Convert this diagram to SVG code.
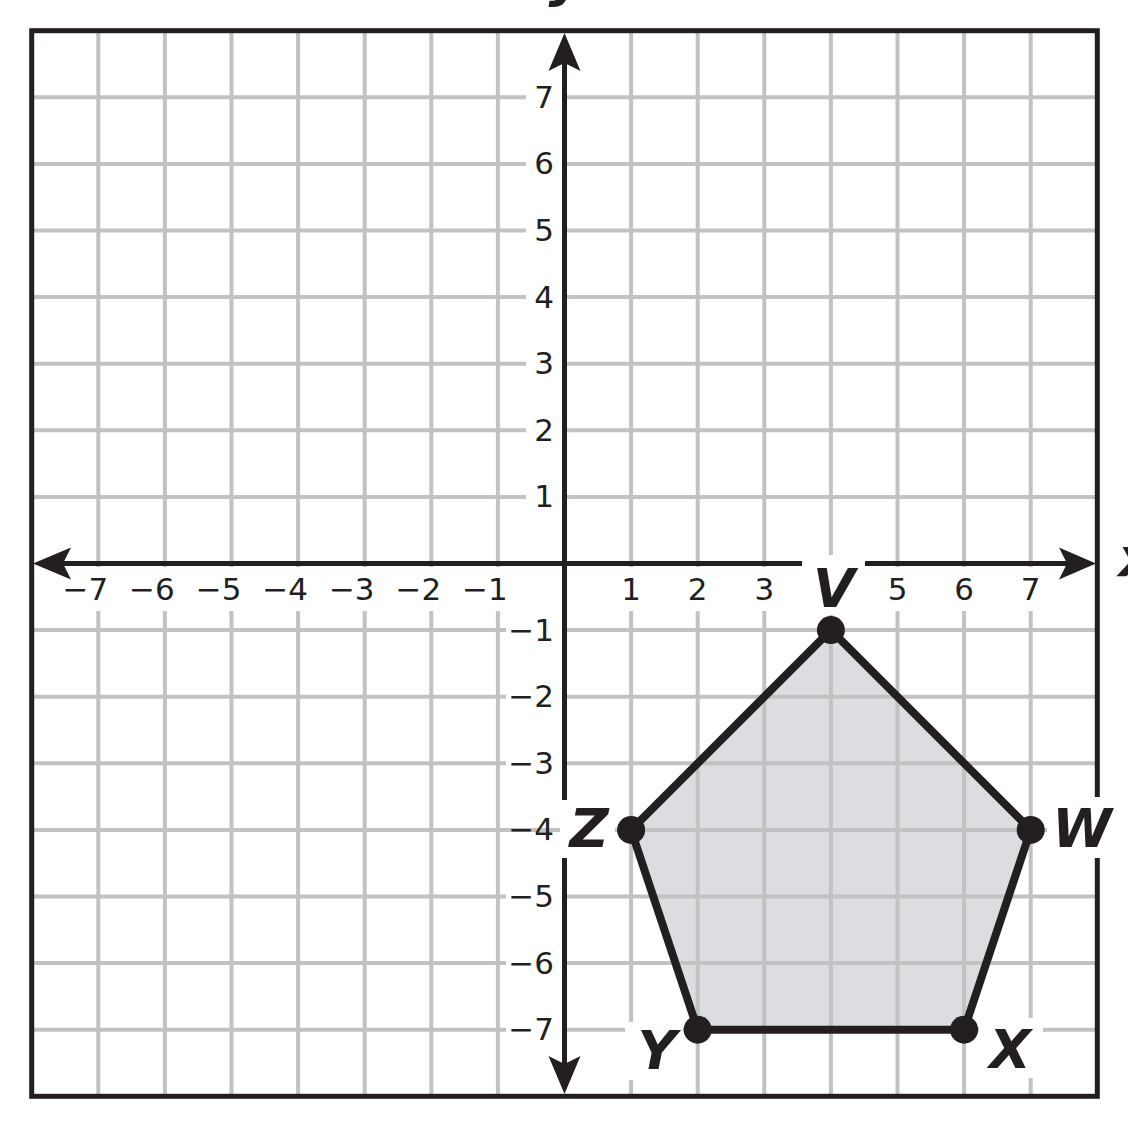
<svg xmlns="http://www.w3.org/2000/svg" width="1128" height="1122" viewBox="0 0 1128 1122">
<style>
.grid{stroke:#c2c2c2;stroke-width:4;fill:none}
.axis{stroke:#231f20;stroke-width:5;fill:none}
.head{fill:#231f20}
.border{stroke:#231f20;stroke-width:5;fill:none}
.mask{fill:#ffffff}
.tick{font-family:"DejaVu Sans","Verdana",sans-serif;font-size:31px;fill:#231f20}
.tx{text-anchor:middle}
.txn{text-anchor:end}
.ty{text-anchor:end}
.vlab{font-family:"DejaVu Sans",sans-serif;font-size:54px;font-weight:bold;font-style:italic;fill:#231f20;text-anchor:middle}
.poly{fill:#dcdde0;stroke:none}
.edge{stroke:#231f20;stroke-width:8;fill:none;stroke-linejoin:round}
.dot{fill:#231f20}
</style>
<rect x="0" y="0" width="1128" height="1122" fill="#ffffff"/>
<g id="shape-fill">
<polygon class="poly" points="830.9,630.1 1030.7,829.9 964.1,1029.7 697.7,1029.7 631.1,829.9"/>
</g>
<g id="grid">
<path class="grid" d="M98.3 30.7V1096.3M164.9 30.7V1096.3M231.5 30.7V1096.3M298.1 30.7V1096.3M364.7 30.7V1096.3M431.3 30.7V1096.3M497.9 30.7V1096.3M631.1 30.7V1096.3M697.7 30.7V1096.3M764.3 30.7V1096.3M830.9 30.7V1096.3M897.5 30.7V1096.3M964.1 30.7V1096.3M1030.7 30.7V1096.3M31.7 97.3H1097.3M31.7 163.9H1097.3M31.7 230.5H1097.3M31.7 297.1H1097.3M31.7 363.7H1097.3M31.7 430.3H1097.3M31.7 496.9H1097.3M31.7 630.1H1097.3M31.7 696.7H1097.3M31.7 763.3H1097.3M31.7 829.9H1097.3M31.7 896.5H1097.3M31.7 963.1H1097.3M31.7 1029.7H1097.3"/>
</g>
<g id="label-masks">
<rect class="mask" x="36" y="567" width="1056" height="44"/>
<rect class="mask" x="526" y="83" width="36" height="28"/>
<rect class="mask" x="526" y="150" width="36" height="28"/>
<rect class="mask" x="526" y="216" width="36" height="28"/>
<rect class="mask" x="526" y="283" width="36" height="28"/>
<rect class="mask" x="526" y="350" width="36" height="28"/>
<rect class="mask" x="526" y="416" width="36" height="28"/>
<rect class="mask" x="526" y="483" width="36" height="28"/>
<rect class="mask" x="506" y="616" width="56" height="28"/>
<rect class="mask" x="506" y="683" width="56" height="28"/>
<rect class="mask" x="506" y="749" width="56" height="28"/>
<rect class="mask" x="506" y="882" width="56" height="28"/>
<rect class="mask" x="506" y="949" width="56" height="28"/>
<rect class="mask" x="506" y="1016" width="56" height="28"/>
</g>
<g id="border">
<rect class="border" x="31.7" y="30.7" width="1065.6" height="1065.6"/>
</g>
<g id="connectors">
<line class="axis" x1="63" y1="563.5" x2="1067" y2="563.5"/>
<line class="axis" x1="564.5" y1="63" x2="564.5" y2="1064"/>
<polygon class="head" points="1096,563.5 1059,547.5 1067,563.5 1059,579.5"/>
<polygon class="head" points="33,563.5 71,547.5 63,563.5 71,579.5"/>
<polygon class="head" points="564.5,33 548.5,71 564.5,63 580.5,71"/>
<polygon class="head" points="564.5,1094 548.5,1056 564.5,1064 580.5,1056"/>
</g>
<g id="tick-labels" class="tick">
<text class="txn" x="108.2" y="600">−7</text>
<text class="txn" x="174.8" y="600">−6</text>
<text class="txn" x="241.4" y="600">−5</text>
<text class="txn" x="308" y="600">−4</text>
<text class="txn" x="374.6" y="600">−3</text>
<text class="txn" x="441.2" y="600">−2</text>
<text class="txn" x="507.8" y="600">−1</text>
<text class="tx" x="631.1" y="600">1</text>
<text class="tx" x="697.7" y="600">2</text>
<text class="tx" x="764.3" y="600">3</text>
<text class="tx" x="897.5" y="600">5</text>
<text class="tx" x="964.1" y="600">6</text>
<text class="tx" x="1030.7" y="600">7</text>
<text class="ty" x="554" y="107.8">7</text>
<text class="ty" x="554" y="174.4">6</text>
<text class="ty" x="554" y="241">5</text>
<text class="ty" x="554" y="307.6">4</text>
<text class="ty" x="554" y="374.2">3</text>
<text class="ty" x="554" y="440.8">2</text>
<text class="ty" x="554" y="507.4">1</text>
<text class="ty" x="554" y="640.6">−1</text>
<text class="ty" x="554" y="707.2">−2</text>
<text class="ty" x="554" y="773.8">−3</text>
<text class="ty" x="554" y="840.4">−4</text>
<text class="ty" x="554" y="907">−5</text>
<text class="ty" x="554" y="973.6">−6</text>
<text class="ty" x="554" y="1040.2">−7</text>
</g>
<g id="axis-names">
<text class="vlab" x="566" y="-4">y</text>
<text class="vlab" x="1136" y="576">x</text>
</g>
<g id="pentagon">
<polygon class="edge" points="830.9,630.1 1030.7,829.9 964.1,1029.7 697.7,1029.7 631.1,829.9"/>
</g>
<g id="node-V">
<rect class="mask" x="802" y="555" width="63" height="60"/>
<circle class="dot" cx="830.9" cy="630.1" r="14"/>
<text class="vlab" x="834" y="607">V</text>
</g>
<g id="node-W">
<rect class="mask" x="1047" y="797" width="72" height="61"/>
<circle class="dot" cx="1030.7" cy="829.9" r="14"/>
<text class="vlab" x="1082" y="847">W</text>
</g>
<g id="node-X">
<rect class="mask" x="979" y="1018" width="64" height="60"/>
<circle class="dot" cx="964.1" cy="1029.7" r="14"/>
<text class="vlab" x="1010" y="1068">X</text>
</g>
<g id="node-Y">
<rect class="mask" x="625" y="1022" width="58" height="58"/>
<circle class="dot" cx="697.7" cy="1029.7" r="14"/>
<text class="vlab" x="657" y="1069">Y</text>
</g>
<g id="node-Z">
<rect class="mask" x="560" y="800" width="55" height="58"/>
<circle class="dot" cx="631.1" cy="829.9" r="14"/>
<text class="vlab" x="589" y="847">Z</text>
</g>
</svg>
